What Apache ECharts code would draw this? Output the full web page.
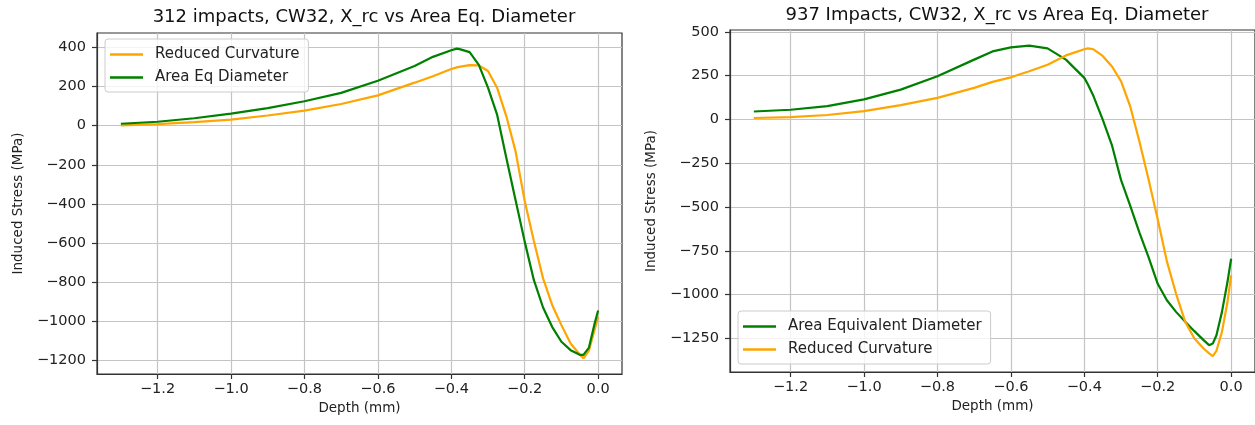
<!DOCTYPE html>
<html lang="en">
<head>
    <meta charset="UTF-8">
    <title>Induced Stress vs Depth</title>
    <script src="https://cdn.jsdelivr.net/npm/echarts@6/dist/echarts.min.js"></script>
    <style>
        html, body {margin: 0; padding: 0; background: #fff;}
    </style>
</head>
<body>
<div id="chart1" style="width: 1255px;height: 425px;"></div>
<script>
    // 左图 312 impacts
    var xLeft = [-1.3, -1.2, -1.1, -1.0, -0.9, -0.8, -0.7, -0.6, -0.5, -0.45, -0.4, -0.385, -0.375, -0.35, -0.325,
        -0.3, -0.275, -0.25, -0.225, -0.2, -0.175, -0.15, -0.125, -0.1, -0.075, -0.05, -0.04, -0.025, -0.01, 0];
    var curvLeft = [2, 8, 18, 31, 52, 77, 111, 155, 220, 253, 290, 298, 302, 310, 308,
        280, 193, 48, -130, -385, -590, -781, -918, -1020, -1114, -1170, -1190, -1150, -1046, -978];
    var areaLeft = [10, 20, 38, 62, 90, 125, 168, 230, 305, 352, 386, 394, 390, 376, 311,
        195, 55, -165, -380, -593, -790, -930, -1030, -1105, -1148, -1172, -1172, -1135, -1015, -945];

    // 右图 937 impacts
    var xRight = [-1.3, -1.2, -1.1, -1.0, -0.9, -0.8, -0.7, -0.65, -0.6, -0.55, -0.5, -0.45, -0.4, -0.39, -0.375,
        -0.35, -0.325, -0.3, -0.275, -0.25, -0.225, -0.2, -0.175, -0.15, -0.125, -0.1, -0.075, -0.06, -0.05, -0.04,
        -0.025, -0.01, 0];
    var areaRight = [45, 55, 76, 114, 170, 246, 341, 388, 411, 421, 405, 341, 237, 199, 133,
        0, -145, -345, -492, -644, -786, -938, -1032, -1098, -1155, -1208, -1259, -1288, -1279, -1231,
        -1098, -928, -795];
    var curvRight = [8, 13, 25, 47, 81, 123, 180, 214, 240, 275, 312, 365, 400, 405, 400,
        362, 303, 218, 75, -125, -341, -570, -810, -995, -1155, -1250, -1307, -1335, -1350, -1320,
        -1212, -1042, -890];

    // 刻度
    var xTicks = [-1.2, -1.0, -0.8, -0.6, -0.4, -0.2, 0.0];
    var yTicksLeft = [-1200, -1000, -800, -600, -400, -200, 0, 200, 400];
    var yTicksRight = [-1250, -1000, -750, -500, -250, 0, 250, 500];

    function pairs(xs, ys) {
        var out = [];
        for (var i = 0; i < xs.length; i++) {
            out.push([xs[i], ys[i]]);
        }
        return out;
    }

    function minus(s) {
        return String(s).replace('-', '\u2212');
    }

    var font = 'DejaVu Sans';
    var gridLine = {show: true, lineStyle: {color: '#c4c4c4', width: 1.2}};
    var spine = {show: true, onZero: false, lineStyle: {color: '#333', width: 1.2}};

    function xAxisOf(idx) {
        return {
            type: 'value', gridIndex: idx, min: -1.365, max: 0.065, position: 'bottom',
            name: 'Depth (mm)', nameLocation: 'middle', nameGap: 26,
            nameTextStyle: {fontFamily: font, fontSize: 13.5, color: '#222'},
            axisLine: spine,
            axisTick: {show: true, length: 5, customValues: xTicks, lineStyle: {color: '#333', width: 1.2}},
            axisLabel: {
                customValues: xTicks, margin: 8, fontFamily: font, fontSize: 14.5, color: '#222',
                formatter: function (v) { return minus(v.toFixed(1)); }
            },
            splitLine: gridLine
        };
    }

    function yAxisOf(idx, min, max, ticks) {
        return {
            type: 'value', gridIndex: idx, min: min, max: max, position: 'left',
            name: 'Induced Stress (MPa)', nameLocation: 'middle', nameGap: 72,
            nameTextStyle: {fontFamily: font, fontSize: 13.5, color: '#222'},
            axisLine: spine,
            axisTick: {show: true, length: 5, customValues: ticks, lineStyle: {color: '#333', width: 1.2}},
            axisLabel: {
                customValues: ticks, margin: 11, fontFamily: font, fontSize: 14.5, color: '#222',
                formatter: function (v) { return minus(v); }
            },
            splitLine: gridLine
        };
    }

    function lineSeries(name, idx, data, color) {
        return {
            name: name, type: 'line', xAxisIndex: idx, yAxisIndex: idx,
            data: data, showSymbol: false, symbol: 'none', smooth: false,
            lineStyle: {color: color, width: 2.2}, itemStyle: {color: color},
            animation: false
        };
    }

    var legendBase = {
        orient: 'vertical', itemWidth: 33, itemHeight: 15, itemGap: 8,
        icon: 'path://M0,0 L33,0 L33,2.3 L0,2.3 Z',
        backgroundColor: 'rgba(255,255,255,0.8)', borderColor: '#cccccc', borderWidth: 1, borderRadius: 3,
        textStyle: {fontFamily: font, fontSize: 15, color: '#222', padding: [0, 0, 0, 7]}
    };

    var orange = '#ffa500';
    var green = '#008000';

    var myChart = echarts.init(document.getElementById('chart1'));
    var option = {
        animation: false,
        backgroundColor: '#fff',
        title: [
            {text: '312 impacts, CW32, X_rc vs Area Eq. Diameter', left: 359, top: 3, textAlign: 'center',
                textStyle: {fontFamily: font, fontSize: 18, fontWeight: 'normal', color: '#111'}},
            {text: '937 Impacts, CW32, X_rc vs Area Eq. Diameter', left: 992, top: 1, textAlign: 'center',
                textStyle: {fontFamily: font, fontSize: 18, fontWeight: 'normal', color: '#111'}}
        ],
        grid: [
            {left: 97, top: 33, width: 525, height: 341, show: true, borderColor: '#333', borderWidth: 1.2, backgroundColor: '#fff'},
            {left: 730, top: 30, width: 525, height: 342, show: true, borderColor: '#333', borderWidth: 1.2, backgroundColor: '#fff'}
        ],
        legend: [
            Object.assign({}, legendBase, {left: 105, top: 39, padding: [8, 9, 7, 5],
                data: ['Reduced Curvature', 'Area Eq Diameter']}),
            Object.assign({}, legendBase, {left: 738, top: 311, padding: [8, 9, 7, 5],
                data: ['Area Equivalent Diameter', 'Reduced Curvature']})
        ],
        xAxis: [xAxisOf(0), xAxisOf(1)],
        yAxis: [
            yAxisOf(0, -1270, 474, yTicksLeft),
            yAxisOf(1, -1441, 510, yTicksRight)
        ],
        series: [
            lineSeries('Reduced Curvature', 0, pairs(xLeft, curvLeft), orange),
            lineSeries('Area Eq Diameter', 0, pairs(xLeft, areaLeft), green),
            lineSeries('Area Equivalent Diameter', 1, pairs(xRight, areaRight), green),
            lineSeries('Reduced Curvature', 1, pairs(xRight, curvRight), orange)
        ]
    };
    myChart.setOption(option);
</script>
</body>
</html>
